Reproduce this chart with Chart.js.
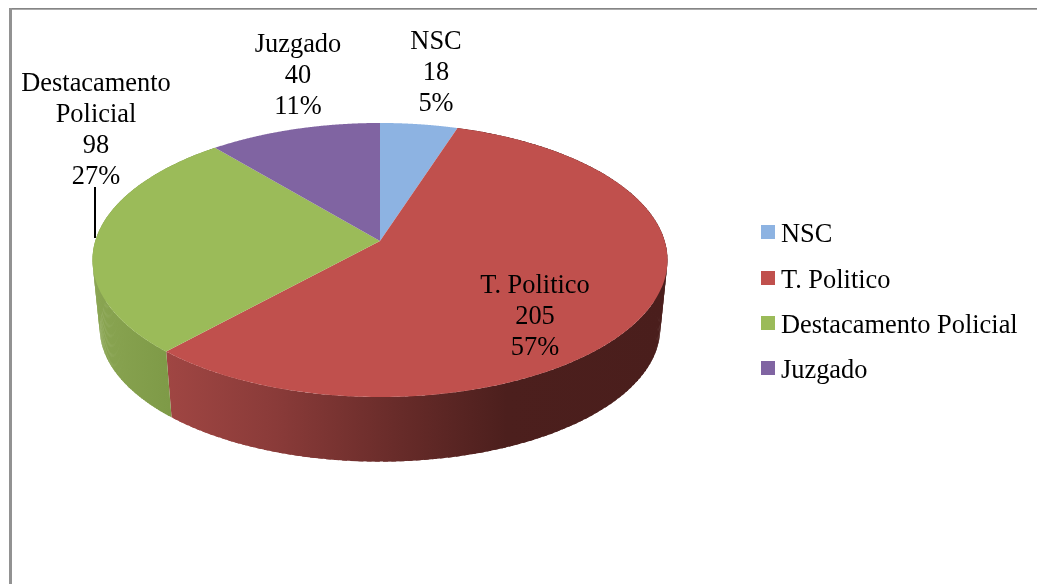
<!DOCTYPE html>
<html><head><meta charset="utf-8">
<style>html,body{margin:0;padding:0;background:#fff;overflow:hidden}canvas{display:block}</style>
<script src="https://cdn.jsdelivr.net/npm/chart.js@4"></script>
</head><body><canvas id="c" width="1037" height="584"></canvas>
<script>
const categories = ['NSC', 'T. Politico', 'Destacamento Policial', 'Juzgado'];
const values = [18, 205, 98, 40];
const colors = ['#8db3e2', '#c0504d', '#9bbb59', '#8064a2'];
const labelLines = [['NSC'], ['T. Politico'], ['Destacamento', 'Policial'], ['Juzgado']];

const FONT = '26.4px "Liberation Serif"';
const LINE = 31;
const labelAnchors = [[436, 49], [535, 293], [96, 91], [298, 52]];
const legendRows = [232, 278, 323, 368];
const sideStops = [
  null,
  [[0, '#a04643'], [0.22, '#8a3b39'], [0.47, '#672b29'], [0.68, '#4c1f1d'], [1, '#4a1e1c']],
  [[0, '#8aa552'], [1, '#7e9a47']],
  null
];
const sideRange = [null, [165, 667], [92, 170], null];

const K = 0.1387, CX = 380, AX = 284.7, AY = 134.4;
function project(a, apexY, s) {
  const X = Math.cos(a), Y = Math.sin(a), w = 1 - K * Y;
  return [CX + s * AX * X / w, apexY + s * AY * Y / w];
}
const TOP = [241, 1], BOT = [309.5, 0.975];

const pie3d = {
  id: 'pie3d',
  beforeDatasetsDraw(chart) {
    const ctx = chart.ctx, arcs = chart.getDatasetMeta(0).data;
    ctx.save();
    // side wall: overlapping quads, so no seams show between them
    arcs.forEach((arc, i) => {
      if (!sideStops[i]) return;
      const g = ctx.createLinearGradient(sideRange[i][0], 0, sideRange[i][1], 0);
      sideStops[i].forEach(s => g.addColorStop(s[0], s[1]));
      ctx.fillStyle = g;
      const n = 140, span = arc.endAngle - arc.startAngle;
      for (let j = 0; j < n; j++) {
        const a0 = arc.startAngle + span * j / n;
        const a1 = Math.min(arc.endAngle, arc.startAngle + span * (j + 1.6) / n);
        const p = [project(a0, ...TOP), project(a1, ...TOP), project(a1, ...BOT), project(a0, ...BOT)];
        ctx.beginPath();
        p.forEach((q, k) => k ? ctx.lineTo(q[0], q[1]) : ctx.moveTo(q[0], q[1]));
        ctx.closePath(); ctx.fill();
      }
    });
    // top face
    arcs.forEach((arc, i) => {
      ctx.fillStyle = colors[i];
      ctx.beginPath();
      ctx.moveTo(CX, TOP[0]);
      const n = 200;
      for (let j = 0; j <= n; j++) {
        const q = project(arc.startAngle + (arc.endAngle - arc.startAngle) * j / n, ...TOP);
        ctx.lineTo(q[0], q[1]);
      }
      ctx.closePath(); ctx.fill();
    });
    ctx.restore();
    return false;
  },
  afterDraw(chart) {
    const ctx = chart.ctx;
    const total = values.reduce((a, b) => a + b, 0);
    ctx.save();
    // frame
    ctx.fillStyle = '#858585'; ctx.fillRect(9, 8, 1028, 1);
    ctx.fillStyle = '#aaaaaa'; ctx.fillRect(9, 9, 1028, 1);
    ctx.fillStyle = '#929292'; ctx.fillRect(9, 8, 3, 576);
    // leader
    ctx.fillStyle = '#000'; ctx.fillRect(94, 187, 2, 51);
    // labels
    ctx.font = FONT; ctx.fillStyle = '#000'; ctx.textBaseline = 'alphabetic'; ctx.textAlign = 'center';
    categories.forEach((c, i) => {
      const lines = [...labelLines[i], String(values[i]), Math.round(values[i] / total * 100) + '%'];
      lines.forEach((t, k) => ctx.fillText(t, labelAnchors[i][0], labelAnchors[i][1] + k * LINE));
    });
    // legend
    ctx.textAlign = 'left'; ctx.textBaseline = 'alphabetic';
    categories.forEach((c, i) => {
      ctx.fillStyle = colors[i];
      ctx.fillRect(761, legendRows[i] - 7, 14, 14);
      ctx.fillStyle = '#000';
      ctx.fillText(c, 781, legendRows[i] + 10);
    });
    ctx.restore();
  }
};

new Chart(document.getElementById('c'), {
  type: 'pie',
  data: { labels: categories, datasets: [{ data: values, backgroundColor: colors, borderWidth: 0 }] },
  options: {
    responsive: false, animation: false,
    plugins: { legend: { display: false }, tooltip: { enabled: false } }
  },
  plugins: [pie3d]
});
</script></body></html>
